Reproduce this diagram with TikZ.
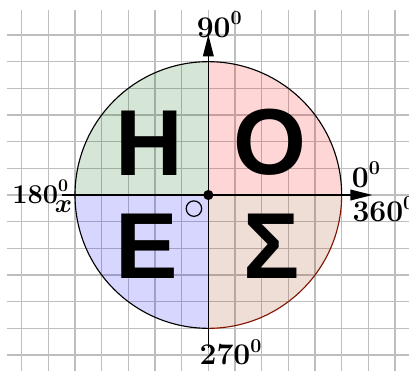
\RequirePackage{fix-cm}
\documentclass[tikz,border=0pt]{standalone}
\usepackage{bm}
\usepackage{fontspec}
\newfontfamily\bigsans{Liberation Sans}
\usetikzlibrary{arrows.meta}
\definecolor{gridgray}{RGB}{190,190,190}
\definecolor{qgreen}{RGB}{0,100,0}
\definecolor{qred}{RGB}{255,0,0}
\definecolor{qblue}{RGB}{0,0,255}
\definecolor{qbrown}{RGB}{153,51,0}
\definecolor{arcred}{RGB}{128,20,0}
\newcommand{\degsup}[1]{\raisebox{0.42em}{\fontsize{21}{21}\selectfont #1}}
\newcommand{\degsupsm}[1]{\raisebox{0.42em}{\fontsize{19}{19}\selectfont #1}}
\begin{document}
\begin{tikzpicture}[
  gridline/.style={gridgray, line width=1.1pt},
  quad/.style={fill opacity=0.16},
  axisline/.style={line width=1.4pt, -{Triangle[length=0.82cm,width=0.4cm]}},
  deglabel/.style={inner sep=0pt, anchor=base west, font=\bfseries\fontsize{32}{34}\selectfont},
  bigletter/.style={inner sep=0pt, font=\bigsans\bfseries\fontsize{100}{100}\selectfont}
]
\useasboundingbox (-7.8125,-6.5625) rectangle (7.525,7.3125);
% grid
\foreach \x in {-7,...,7} \draw[gridline] (\x,-6.6) -- (\x,6.94);
\foreach \y in {-6,...,6} \draw[gridline] (-7.55,\y) -- (7.6,\y);
% quadrants
\fill[qred,quad] (0,0) -- (5,0) arc (0:90:5) -- cycle;
\fill[qgreen,quad] (0,0) -- (0,5) arc (90:180:5) -- cycle;
\fill[qblue,quad] (0,0) -- (-5,0) arc (180:270:5) -- cycle;
\fill[qbrown,quad] (0,0) -- (0,-5) arc (270:360:5) -- cycle;
\draw[line width=1.2pt] (5,0) arc (0:270:5);
\draw[arcred, line width=1.2pt] (0,-5) arc (270:360:5);
% axes
\coordinate (O) at (0,0);
\coordinate (xl) at (-5.5,0);
\coordinate (xr) at (6.15,0);
\coordinate (yb) at (0,-5.74);
\coordinate (yt) at (0,6.02);
\draw[axisline] (xl) -- (xr);
\draw[axisline] (yb) -- (yt);
\fill (O) circle (0.19);
\draw[line width=1.3pt] (-0.54,-0.51) circle (0.29);
% labels
\node[deglabel] (l90) at (-0.44,5.92) {90\degsup{0}};
\node[deglabel] (l0) at (5.38,0.3) {0\degsup{0}};
\node[deglabel] (l360) at (5.4,-1.0) {360\degsup{0}};
\node[deglabel, font=\bfseries\fontsize{29}{31}\selectfont] (l180) at (-7.36,-0.3) {180\degsupsm{0}};
\node[deglabel] (l270) at (-0.33,-6.37) {270\degsup{0}};
\node[inner sep=0pt, font=\fontsize{28}{30}\selectfont] (lx) at (-5.43,-0.42) {$\bm{x}$};
% big letters
\node[bigletter] (H) at (-2.2,1.93) {Η};
\node[bigletter] (Om) at (2.31,1.97) {Ο};
\node[bigletter] (E) at (-2.32,-1.93) {Ε};
\node[bigletter] (S) at (2.39,-1.93) {Σ};
\end{tikzpicture}
\end{document}
